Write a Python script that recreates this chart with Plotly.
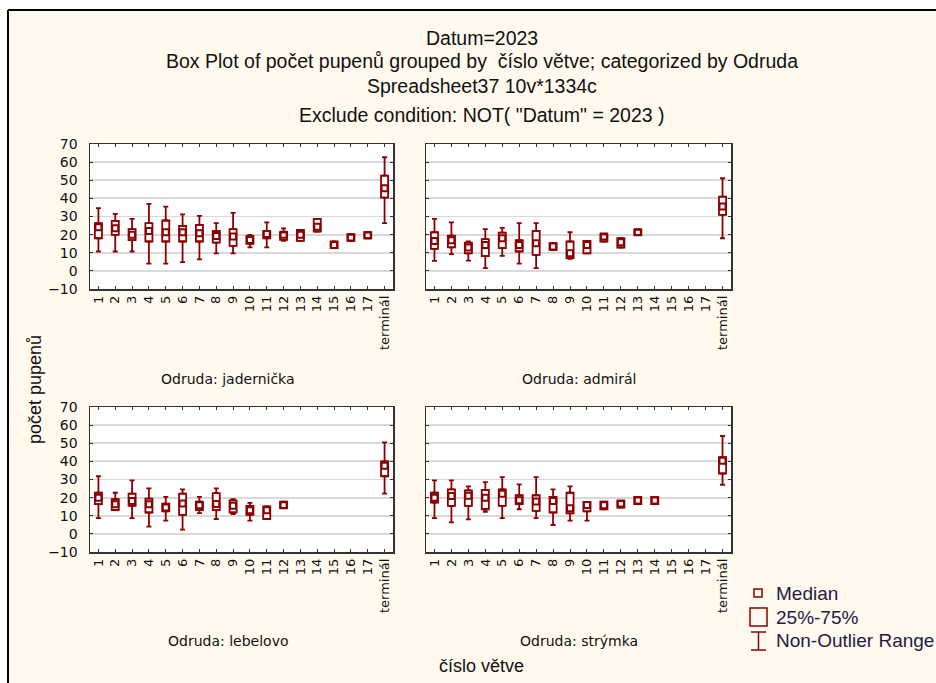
import plotly.graph_objects as go

W, H = 936, 683

categories = [str(i) for i in range(1, 18)] + ["terminál"]

N = None
# jadernička
jad_min = [10.7, 10.7, 10.7, 4.0, 4.0, 4.8, 6.3, 9.7, 9.7, 13.0, 13.0, 16.5, 16.5, 21.7, 12.5, 16.5, 18.0, 26.3]
jad_q1  = [18.0, 19.9, 17.0, 16.2, 16.2, 16.2, 16.2, 15.6, 13.8, 14.9, 18.0, 17.1, 16.5, 21.7, 12.5, 16.5, 18.0, 40.4]
jad_med = [24.0, 23.5, 19.9, 22.0, 21.3, 21.3, 20.8, 19.3, 19.0, 17.1, 20.4, 19.9, 19.9, 24.4, 14.3, 18.4, 19.7, 45.6]
jad_q3  = [26.3, 27.6, 23.0, 26.3, 27.8, 24.8, 25.4, 22.0, 23.0, 19.3, 22.0, 21.3, 22.6, 28.7, 16.2, 20.2, 21.3, 52.6]
jad_max = [34.6, 31.4, 28.7, 37.0, 35.5, 31.2, 30.3, 26.3, 32.0, 19.9, 26.8, 23.5, 22.6, 28.7, 16.2, 20.2, 21.3, 62.7]

# admirál
adm_min = [5.5, 9.2, 5.7, 1.5, 8.3, 4.0, 1.5, 11.6, 6.6, 9.7, 16.2, 12.9, 19.9, N, N, N, N, 18.0]
adm_q1  = [12.1, 13.0, 9.6, 8.1, 12.5, 10.7, 8.8, 11.6, 7.0, 9.7, 16.2, 12.9, 19.9, N, N, N, N, 30.9]
adm_med = [16.5, 16.9, 12.9, 14.3, 18.0, 14.3, 15.3, 13.4, 9.7, 14.3, 18.9, 15.8, 21.3, N, N, N, N, 35.5]
adm_q3  = [21.3, 19.5, 15.6, 17.5, 21.1, 16.9, 22.0, 15.3, 16.2, 16.5, 20.2, 18.0, 22.8, N, N, N, N, 41.0]
adm_max = [28.7, 26.8, 16.2, 23.0, 23.7, 26.3, 26.3, 15.3, 21.3, 16.5, 20.2, 18.0, 22.8, N, N, N, N, 51.1]

# lebelovo
leb_min = [8.7, 13.1, 8.7, 4.0, 7.3, 2.4, 11.5, 8.2, 10.9, 7.3, 8.2, 14.2, N, N, N, N, N, 22.2]
leb_q1  = [16.4, 13.1, 15.5, 11.8, 12.4, 10.5, 13.1, 13.1, 11.8, 10.5, 8.2, 14.2, N, N, N, N, N, 31.8]
leb_med = [20.0, 16.4, 18.2, 16.4, 14.5, 16.7, 15.8, 16.5, 15.5, 13.1, 13.1, 15.8, N, N, N, N, N, 37.6]
leb_q3  = [22.7, 19.1, 22.2, 19.5, 16.7, 22.2, 17.8, 22.5, 18.5, 15.5, 15.1, 17.8, N, N, N, N, N, 40.0]
leb_max = [31.8, 22.7, 29.5, 25.1, 20.4, 24.5, 20.4, 25.1, 19.1, 17.1, 15.1, 17.8, N, N, N, N, N, 50.5]

# strýmka
str_min = [8.7, 6.4, 8.0, 12.2, 8.7, 13.6, 8.7, 4.9, 7.3, 7.3, 13.6, 14.5, 16.4, 16.4, N, N, N, 27.1]
str_q1  = [17.3, 15.5, 15.5, 13.6, 15.5, 16.4, 12.7, 11.8, 11.3, 12.4, 13.6, 14.5, 16.4, 16.4, N, N, N, 33.3]
str_med = [20.0, 20.9, 21.0, 20.0, 22.2, 18.5, 17.8, 18.2, 14.2, 16.0, 15.8, 16.7, 18.4, 18.4, N, N, N, 40.4]
str_q3  = [22.7, 24.5, 24.0, 24.2, 24.5, 21.3, 21.3, 20.4, 22.7, 17.6, 17.8, 18.2, 20.4, 20.4, N, N, N, 42.4]
str_max = [29.5, 29.5, 26.2, 28.5, 31.3, 27.3, 31.3, 24.5, 26.2, 17.6, 17.8, 18.2, 20.4, 20.4, N, N, N, 54.0]

panel_names = ["Odruda: jadernička", "Odruda: admirál", "Odruda: lebelovo", "Odruda: strýmka"]
panels = [
    (jad_min, jad_q1, jad_med, jad_q3, jad_max),
    (adm_min, adm_q1, adm_med, adm_q3, adm_max),
    (leb_min, leb_q1, leb_med, leb_q3, leb_max),
    (str_min, str_q1, str_med, str_q3, str_max),
]

title_lines = [
    "Datum=2023",
    "Box Plot of počet pupenů grouped by  číslo větve; categorized by Odruda",
    "Spreadsheet37 10v*1334c",
    "Exclude condition: NOT( \"Datum\" = 2023 )",
]
y_title = "počet pupenů"
x_title = "číslo větve"
legend_labels = ["Median", "25%-75%", "Non-Outlier Range"]

RED = "#8B0000"
CREAM = "#FFF9EE"


def px(x):
    return x / W


def py(y):
    return 1 - y / H


# panel pixel boxes (left, right, top, bottom)
boxes = [(90, 393, 144, 289), (426, 731, 144, 289), (90, 393, 407, 552), (426, 731, 407, 552)]
label_pos = [(228, 379), (579, 379), (228, 641), (579, 641)]

fig = go.Figure()


def diff(a, b):
    return [None if (u is None or v is None) else round(u - v, 3) for u, v in zip(a, b)]


for i, (mn, q1, md, q3, mx) in enumerate(panels):
    k = "" if i == 0 else str(i + 1)
    xa, ya = "x" + k, "y" + k
    fig.add_trace(go.Bar(
        x=categories, y=diff(q3, q1), base=q1, width=0.42,
        marker=dict(color="white", line=dict(color=RED, width=1.8)),
        xaxis=xa, yaxis=ya, showlegend=False, hoverinfo="skip"))
    fig.add_trace(go.Scatter(
        x=categories, y=q3, mode="markers",
        marker=dict(size=1, color="rgba(0,0,0,0)"),
        error_y=dict(type="data", symmetric=False, array=diff(mx, q3),
                     arrayminus=[0 if v is not None else None for v in q3],
                     color=RED, thickness=1.8, width=2.5),
        xaxis=xa, yaxis=ya, showlegend=False, hoverinfo="skip"))
    fig.add_trace(go.Scatter(
        x=categories, y=q1, mode="markers",
        marker=dict(size=1, color="rgba(0,0,0,0)"),
        error_y=dict(type="data", symmetric=False, array=[0 if v is not None else None for v in q1],
                     arrayminus=diff(q1, mn),
                     color=RED, thickness=1.8, width=2.5),
        xaxis=xa, yaxis=ya, showlegend=False, hoverinfo="skip"))
    fig.add_trace(go.Scatter(
        x=categories, y=md, mode="markers",
        marker=dict(symbol="square-open", size=6, color=RED, line=dict(color=RED, width=2)),
        xaxis=xa, yaxis=ya, showlegend=False, hoverinfo="skip"))

layout = dict(
    width=W, height=H, autosize=False,
    margin=dict(l=0, r=0, t=0, b=0, pad=0, autoexpand=False),
    paper_bgcolor=CREAM, plot_bgcolor="white",
    showlegend=False, bargap=0,
    font=dict(family="Liberation Sans, Arial, sans-serif", color="#111"),
)

for i, (l, r, t, b) in enumerate(boxes):
    k = "" if i == 0 else str(i + 1)
    layout["xaxis" + k] = dict(
        domain=[px(l), px(r)], anchor="y" + k, type="category",
        categoryorder="array", categoryarray=categories,
        range=[-0.5, len(categories) - 0.5],
        tickangle=-90, ticks="inside", ticklen=3, tickwidth=1, tickcolor="#333",
        mirror="ticks", showline=True, linecolor="#333", linewidth=1.5,
        showgrid=False, zeroline=False, automargin=False,
        tickfont=dict(family="DejaVu Sans, sans-serif", size=13, color="#111"),
        fixedrange=True,
    )
    layout["yaxis" + k] = dict(
        domain=[py(b), py(t)], anchor="x" + k,
        range=[-10, 70], dtick=10, tick0=0,
        ticks="inside", ticklen=3, tickwidth=1, tickcolor="#333",
        mirror="ticks", showline=True, linecolor="#333", linewidth=1.5,
        showgrid=True, gridcolor="#D9D9D9", gridwidth=1.8, zeroline=False, automargin=False,
        showticklabels=(i % 2 == 0), ticklabelstandoff=8,
        tickfont=dict(family="DejaVu Sans, sans-serif", size=14, color="#111"),
        fixedrange=True,
    )

annotations = []
title_y = [38, 61, 86, 115]
for txt, yy in zip(title_lines, title_y):
    annotations.append(dict(text=txt, x=px(482), y=py(yy), xref="paper", yref="paper",
                            showarrow=False, xanchor="center", yanchor="middle",
                            font=dict(family="Liberation Sans, Arial", size=19.5, color="#111")))
for name, (xx, yy) in zip(panel_names, label_pos):
    annotations.append(dict(text=name, x=px(xx), y=py(yy), xref="paper", yref="paper",
                            showarrow=False, xanchor="center", yanchor="middle",
                            font=dict(family="DejaVu Sans, sans-serif", size=14, color="#111")))
annotations.append(dict(text=y_title, x=px(35), y=py(390), xref="paper", yref="paper",
                        showarrow=False, xanchor="center", yanchor="middle", textangle=-90,
                        font=dict(family="Liberation Sans, Arial", size=18, color="#111")))
annotations.append(dict(text=x_title, x=px(482), y=py(666), xref="paper", yref="paper",
                        showarrow=False, xanchor="center", yanchor="middle",
                        font=dict(family="Liberation Sans, Arial", size=18, color="#111")))
for txt, yy in zip(legend_labels, [593, 617, 640]):
    annotations.append(dict(text=txt, x=px(774), y=py(yy), xref="paper", yref="paper",
                            showarrow=False, xanchor="left", yanchor="middle",
                            font=dict(family="Liberation Sans, Arial", size=19, color="#1c1c48")))

shapes = [
    # white margins outside the frame
    dict(type="rect", xref="paper", yref="paper", x0=0, x1=px(8), y0=0, y1=1,
         fillcolor="white", line=dict(width=0)),
    dict(type="rect", xref="paper", yref="paper", x0=0, x1=1, y0=py(10), y1=1,
         fillcolor="white", line=dict(width=0)),
    dict(type="line", xref="paper", yref="paper", x0=px(8), x1=px(8), y0=0, y1=py(10),
         line=dict(color="black", width=2)),
    dict(type="line", xref="paper", yref="paper", x0=px(8), x1=1, y0=py(10), y1=py(10),
         line=dict(color="black", width=2)),
    # legend icons
    dict(type="rect", xref="paper", yref="paper", x0=px(754), x1=px(762), y0=py(597), y1=py(589),
         line=dict(color=RED, width=1.5)),
    dict(type="rect", xref="paper", yref="paper", x0=px(750), x1=px(767), y0=py(626), y1=py(608),
         line=dict(color=RED, width=1.5)),
    dict(type="line", xref="paper", yref="paper", x0=px(758.5), x1=px(758.5), y0=py(650), y1=py(632),
         line=dict(color=RED, width=1.5)),
    dict(type="line", xref="paper", yref="paper", x0=px(751), x1=px(766), y0=py(632), y1=py(632),
         line=dict(color=RED, width=1.5)),
    dict(type="line", xref="paper", yref="paper", x0=px(751), x1=px(766), y0=py(650), y1=py(650),
         line=dict(color=RED, width=1.5)),
]

layout["annotations"] = annotations
layout["shapes"] = shapes
fig.update_layout(**layout)

fig.write_html("out.html", config={"displayModeBar": False, "staticPlot": True},
               post_script="document.body.style.margin='0';document.body.style.overflow='hidden';")
